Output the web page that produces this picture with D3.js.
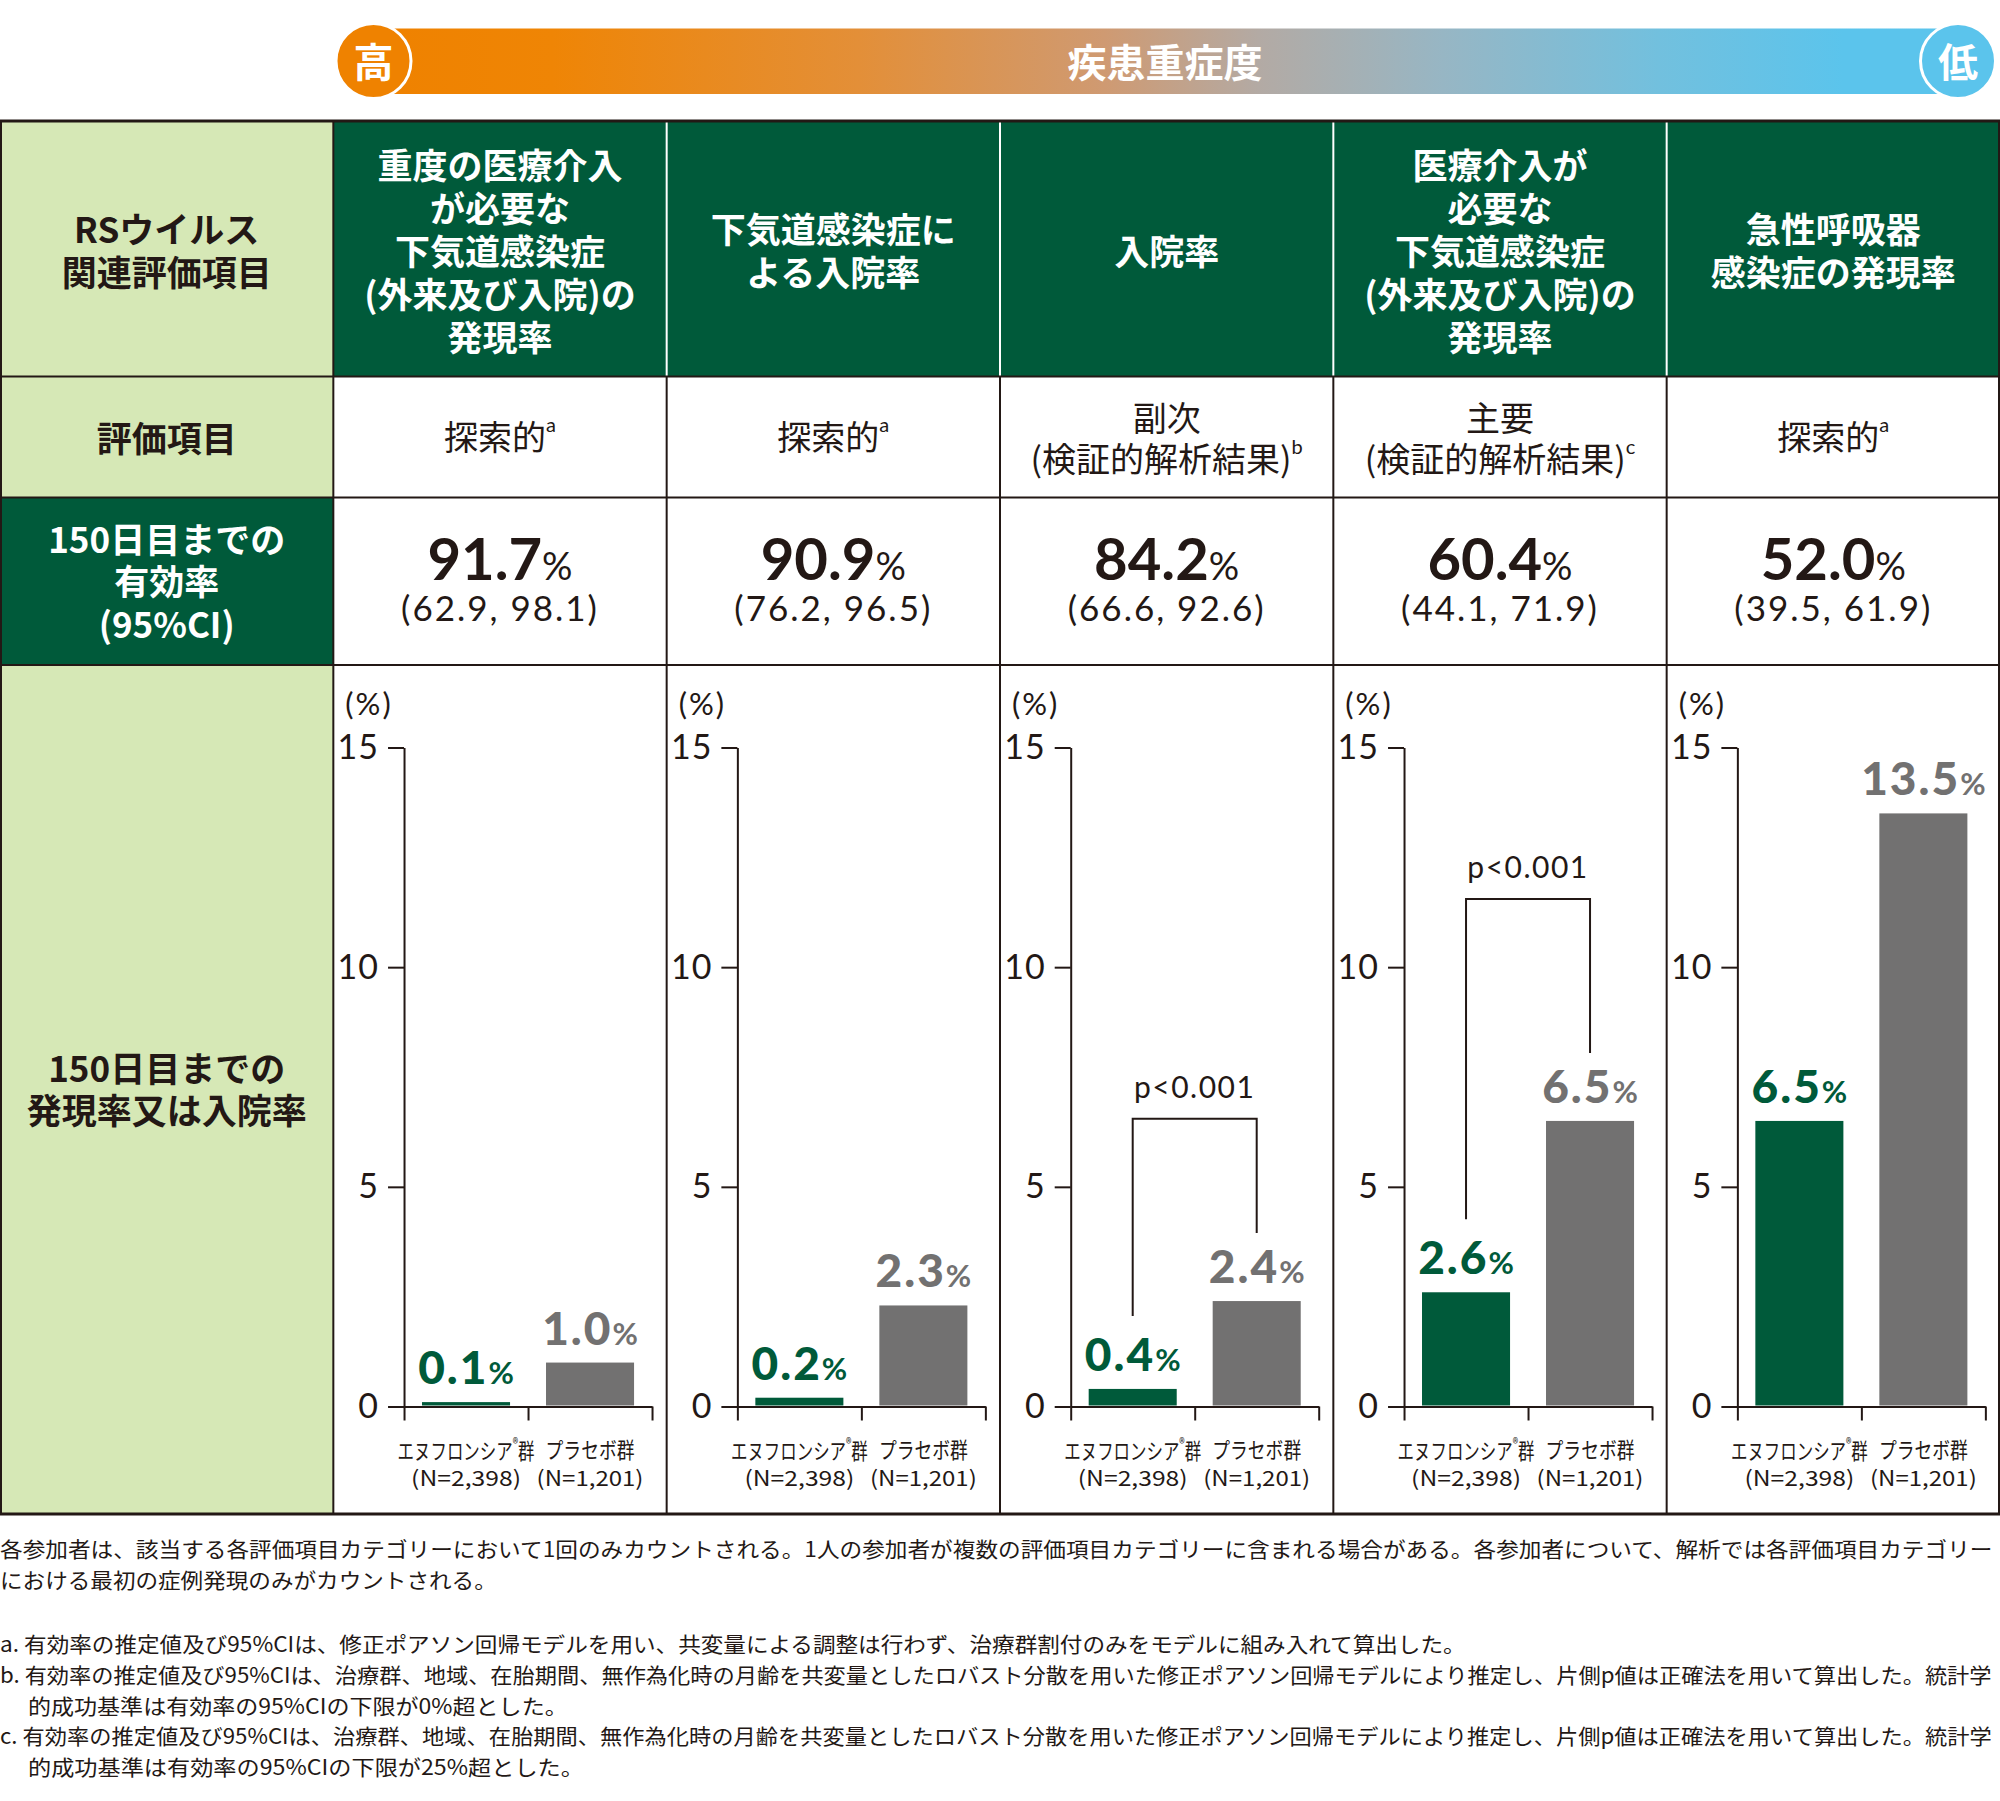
<!DOCTYPE html>
<html><head><meta charset="utf-8">
<script src="https://cdn.jsdelivr.net/npm/d3@7"></script>
<style>
body{margin:0;background:#fff;}
svg{display:block;}
</style></head><body>
<svg id="chart" width="2000" height="1801"></svg>
<script>
// ---------- DATA ----------
const severityLabel = "疾患重症度";
const severityHigh = "高";
const severityLow = "低";
const rowLabels = ["RSウイルス\n関連評価項目", "評価項目", "150日目までの\n有効率\n(95%CI)", "150日目までの\n発現率又は入院率"];
const endpointLabels = [
  "重度の医療介入\nが必要な\n下気道感染症\n(外来及び入院)の\n発現率",
  "下気道感染症に\nよる入院率",
  "入院率",
  "医療介入が\n必要な\n下気道感染症\n(外来及び入院)の\n発現率",
  "急性呼吸器\n感染症の発現率"
];
const endpointTypes = ["探索的", "探索的", "副次\n(検証的解析結果)", "主要\n(検証的解析結果)", "探索的"];
const typeNotes = ["a", "a", "b", "c", "a"];
const efficacy = [91.7, 90.9, 84.2, 60.4, 52.0];
const ciLow = [62.9, 76.2, 66.6, 44.1, 39.5];
const ciHigh = [98.1, 96.5, 92.6, 71.9, 61.9];
const groups = ["エヌフロンシア", "プラセボ群"];
const groupN = ["(N=2,398)", "(N=1,201)"];
const nirsevimab = [0.1, 0.2, 0.4, 2.6, 6.5];
const placebo = [1.0, 2.3, 2.4, 6.5, 13.5];
const yTicks = [0, 5, 10, 15];
const yMax = 15;
const pValues = [null, null, "p<0.001", "p<0.001", null];
const bracketLevel = [null, null, 6.55, 11.55, null];
const footnoteTexts = [
  "各参加者は、該当する各評価項目カテゴリーにおいて1回のみカウントされる。1人の参加者が複数の評価項目カテゴリーに含まれる場合がある。各参加者について、解析では各評価項目カテゴリー",
  "における最初の症例発現のみがカウントされる。",
  "a. 有効率の推定値及び95%CIは、修正ポアソン回帰モデルを用い、共変量による調整は行わず、治療群割付のみをモデルに組み入れて算出した。",
  "b. 有効率の推定値及び95%CIは、治療群、地域、在胎期間、無作為化時の月齢を共変量としたロバスト分散を用いた修正ポアソン回帰モデルにより推定し、片側p値は正確法を用いて算出した。統計学",
  "的成功基準は有効率の95%CIの下限が0%超とした。",
  "c. 有効率の推定値及び95%CIは、治療群、地域、在胎期間、無作為化時の月齢を共変量としたロバスト分散を用いた修正ポアソン回帰モデルにより推定し、片側p値は正確法を用いて算出した。統計学",
  "的成功基準は有効率の95%CIの下限が25%超とした。"
];

// ---------- STYLE ----------
const DG = "#005a3a", LG = "#d6e8b6", GRAY = "#727171", INK = "#231815";
const CJK = "'Noto Sans CJK JP', 'Noto Sans', sans-serif";
const NUM = "Lato, 'Noto Sans', sans-serif";

const svg = d3.select("#chart");
const W = 2000, colW = W / 6;
const rowY = [121, 376.5, 497.5, 665, 1514];

// fit a text element horizontally to a target width by scaling its group
function fitWidth(gSel, textSel, target) {
  const nat = textSel.node().getComputedTextLength();
  const sx = target / nat;
  gSel.attr("transform", `${gSel.attr("data-base")} scale(${sx},1)`);
}

// ---------- SEVERITY BAR ----------
const defs = svg.append("defs");
const grad = defs.append("linearGradient").attr("id", "sev")
  .attr("gradientUnits", "userSpaceOnUse").attr("x1", 398).attr("x2", 1935).attr("y1", 0).attr("y2", 0);
[[0, "#ef8200"], [0.1, "#ef8505"], [0.3, "#e38f38"], [0.46, "#cf9a72"], [0.56, "#b3aaa4"],
 [0.68, "#97b6c4"], [0.82, "#72c0de"], [0.94, "#5bc4ec"], [1, "#5bc4ec"]]
  .forEach(([o, c]) => grad.append("stop").attr("offset", o).attr("stop-color", c));

svg.append("rect").attr("x", 390).attr("y", 28.5).attr("width", 1550).attr("height", 65.5)
  .attr("fill", "url(#sev)");
svg.append("text").attr("x", 1165).attr("y", 60).attr("text-anchor", "middle")
  .attr("dominant-baseline", "central").attr("font-family", CJK).attr("font-weight", 700)
  .attr("font-size", 39).attr("fill", "#fff").text(severityLabel);
[[373.5, 61, "#ef8200", severityHigh], [1958, 61, "#5bc4ec", severityLow]].forEach(([cx, cy, c, t]) => {
  svg.append("circle").attr("cx", cx).attr("cy", cy).attr("r", 37.5)
    .attr("fill", c).attr("stroke", "#fff").attr("stroke-width", 3);
  svg.append("text").attr("x", cx).attr("y", cy - 1).attr("text-anchor", "middle")
    .attr("dominant-baseline", "central").attr("font-family", CJK).attr("font-weight", 700)
    .attr("font-size", 40).attr("fill", "#fff").text(t);
});

// ---------- TABLE CELLS ----------
const cellFill = (r, c) => {
  if (c === 0) return r === 2 ? DG : LG;
  return r === 0 ? DG : "#fff";
};
for (let r = 0; r < 4; r++) {
  for (let c = 0; c < 6; c++) {
    svg.append("rect").attr("x", c * colW).attr("y", rowY[r])
      .attr("width", colW + 0.5).attr("height", rowY[r + 1] - rowY[r]).attr("fill", cellFill(r, c));
  }
}
for (let c = 1; c < 6; c++) {
  for (let r = 0; r < 4; r++) {
    const col = (r === 0 && c >= 2) ? "#fff" : INK;
    svg.append("line").attr("x1", c * colW).attr("x2", c * colW)
      .attr("y1", rowY[r]).attr("y2", rowY[r + 1])
      .attr("stroke", col).attr("stroke-width", 2);
  }
}
[1, 1999].forEach(x => svg.append("line").attr("x1", x).attr("x2", x).attr("y1", rowY[0]).attr("y2", rowY[4])
  .attr("stroke", INK).attr("stroke-width", 2));
rowY.forEach((y, i) => svg.append("line").attr("x1", 0).attr("x2", W).attr("y1", y).attr("y2", y)
  .attr("stroke", INK).attr("stroke-width", (i === 0 || i === 4) ? 3 : 2));

// ---------- helper: one text element, one tspan per line ----------
function multiline(g, text, cx, cy, spacing, attrs) {
  const lines = text.split("\n");
  const el = g.append("text").attr("text-anchor", "middle").attr("dominant-baseline", "central");
  Object.entries(attrs).forEach(([a, v]) => el.attr(a, v));
  return lines.map((ln, k) => el.append("tspan").attr("x", cx)
    .attr("y", cy + (k - (lines.length - 1) / 2) * spacing)
    .attr("dominant-baseline", "central").text(ln));
}

// row labels (column 0)
const rowCenters = [248.5, 436, 579, 1087];
const rowSpacing = [43, 41, 42.5, 42];
rowLabels.forEach((lab, r) => {
  multiline(svg, lab, colW / 2, rowCenters[r], rowSpacing[r], {
    "font-family": CJK, "font-weight": 700, "font-size": 35, fill: r === 2 ? "#fff" : INK
  });
});

// header endpoints
endpointLabels.forEach((lab, i) => {
  multiline(svg, lab, (i + 1.5) * colW, 248.5, 43, {
    "font-family": CJK, "font-weight": 700, "font-size": 35, fill: "#fff"
  });
});

// endpoint types
endpointTypes.forEach((lab, i) => {
  const lines = multiline(svg, lab, (i + 1.5) * colW, lab.includes("\n") ? 436.5 : 435, 41, {
    "font-family": CJK, "font-weight": 400, "font-size": 34, fill: INK
  });
  lines[lines.length - 1].append("tspan").attr("font-family", NUM).attr("font-size", 20)
    .attr("dy", -11).text(typeNotes[i]);
});

// efficacy values
efficacy.forEach((v, i) => {
  const cx = (i + 1.5) * colW;
  const t = svg.append("text").attr("x", cx).attr("y", 580).attr("text-anchor", "middle")
    .attr("font-family", NUM).attr("fill", INK);
  t.append("tspan").attr("font-weight", 700).attr("font-size", 58).text(v.toFixed(1));
  t.append("tspan").attr("font-weight", 400).attr("font-size", 38).text("%");
  svg.append("text").attr("x", cx).attr("y", 621).attr("text-anchor", "middle")
    .attr("font-family", NUM).attr("font-weight", 400).attr("font-size", 35).attr("letter-spacing", 2)
    .attr("fill", INK).text(`(${ciLow[i].toFixed(1)}, ${ciHigh[i].toFixed(1)})`);
});

// ---------- BAR CHARTS ----------
const y = d3.scaleLinear().domain([0, yMax]).range([1406.5, 747.5]);
const catLen = [[137, 89], [110, 107]];
for (let i = 0; i < 5; i++) {
  const x0 = (i + 1) * colW;
  const ax = x0 + 70.7;
  const g = svg.append("g");
  const x = d3.scaleBand().domain(groups).range([ax, ax + 248]).paddingInner(0.29).paddingOuter(0.145);

  // unit label
  g.append("text").attr("x", x0 + 12).attr("y", 703).attr("dominant-baseline", "central")
    .attr("font-family", NUM).attr("font-weight", 400).attr("font-size", 31).attr("letter-spacing", 2)
    .attr("fill", INK).text("(%)");

  // y axis
  const ya = g.append("g").attr("transform", `translate(${ax},0)`)
    .call(d3.axisLeft(y).tickValues(yTicks).tickSize(16).tickSizeOuter(0).tickPadding(9).tickFormat(d3.format("d")));
  ya.selectAll("path,line").attr("stroke", INK).attr("stroke-width", 2);
  ya.selectAll("text").attr("font-family", NUM).attr("font-weight", 400).attr("font-size", 34)
    .attr("fill", INK).attr("letter-spacing", 1);

  // x axis with boundary ticks
  const xb = d3.scaleLinear().domain([0, groups.length]).range(x.range());
  const xa = g.append("g").attr("transform", `translate(0,${y(0)})`)
    .call(d3.axisBottom(xb).tickValues(d3.range(groups.length + 1)).tickSize(14).tickSizeOuter(0).tickFormat(""));
  xa.selectAll("path,line").attr("stroke", INK).attr("stroke-width", 2);

  const bars = [
    { g: groups[0], v: nirsevimab[i], c: DG },
    { g: groups[1], v: placebo[i], c: GRAY }
  ];
  g.selectAll("rect.bar").data(bars).join("rect").attr("class", "bar")
    .attr("x", d => x(d.g)).attr("width", x.bandwidth())
    .attr("y", d => y(d.v)).attr("height", d => y(0) - y(d.v) - 1)
    .attr("fill", d => d.c);

  bars.forEach(d => {
    const t = g.append("text").attr("x", x(d.g) + x.bandwidth() / 2).attr("y", y(d.v) - 18)
      .attr("text-anchor", "middle").attr("font-family", NUM).attr("fill", d.c);
    t.append("tspan").attr("font-weight", 900).attr("font-size", 46).attr("letter-spacing", 2).text(d.v.toFixed(1));
    t.append("tspan").attr("font-weight", 700).attr("font-size", 31).text("%");
  });

  // category labels (condensed by horizontal scaling)
  groups.forEach((gr, k) => {
    const cx = x(gr) + x.bandwidth() / 2;
    const g1 = g.append("g").attr("data-base", `translate(${cx},1449)`);
    const t1 = g1.append("text").attr("x", 0).attr("y", 0).attr("text-anchor", "middle")
      .attr("dominant-baseline", "central").attr("font-family", CJK).attr("font-size", 22)
      .attr("fill", INK);
    if (k === 0) {
      t1.append("tspan").text(gr);
      t1.append("tspan").attr("font-size", 15).attr("dy", -7).text("®");
      t1.append("tspan").attr("dy", 7).text("群");
    } else {
      t1.text(gr);
    }
    fitWidth(g1, t1, catLen[0][k]);
    const g2 = g.append("g").attr("data-base", `translate(${cx},1476.5)`);
    const t2 = g2.append("text").attr("x", 0).attr("y", 0).attr("text-anchor", "middle")
      .attr("dominant-baseline", "central").attr("font-family", CJK).attr("font-size", 21)
      .attr("fill", INK).text(groupN[k]);
    fitWidth(g2, t2, catLen[1][k]);
  });

  // p-value bracket
  if (pValues[i]) {
    const xL = x(groups[0]) + x.bandwidth() / 2, xR = x(groups[1]) + x.bandwidth() / 2;
    const yb = y(bracketLevel[i]);
    g.append("path")
      .attr("d", `M${xL},${y(bars[0].v) - 73}V${yb}H${xR}V${y(bars[1].v) - 68}`)
      .attr("fill", "none").attr("stroke", INK).attr("stroke-width", 2);
    g.append("text").attr("x", (xL + xR) / 2).attr("y", yb - 21).attr("text-anchor", "middle")
      .attr("font-family", NUM).attr("font-weight", 400).attr("font-size", 30).attr("letter-spacing", 1.5)
      .attr("fill", INK).text(pValues[i]);
  }
}

// ---------- FOOTNOTES ----------
const footLayout = [
  { x: 0, y: 1548, w: 1994 }, { x: 0, y: 1578.5, w: 497 },
  { x: 0, y: 1643, w: 1467 }, { x: 0, y: 1673.5, w: 1993 }, { x: 28, y: 1704.5, w: 540 },
  { x: 0, y: 1735, w: 1993 }, { x: 28, y: 1766, w: 556 }
];
footnoteTexts.forEach((t, k) => {
  const L = footLayout[k];
  const gf = svg.append("g").attr("data-base", `translate(${L.x},${L.y})`);
  const tf = gf.append("text").attr("x", 0).attr("y", 0).attr("dominant-baseline", "central")
    .attr("font-family", CJK).attr("font-size", 21).attr("fill", INK).text(t);
  fitWidth(gf, tf, L.w);
});
</script>
</body></html>
